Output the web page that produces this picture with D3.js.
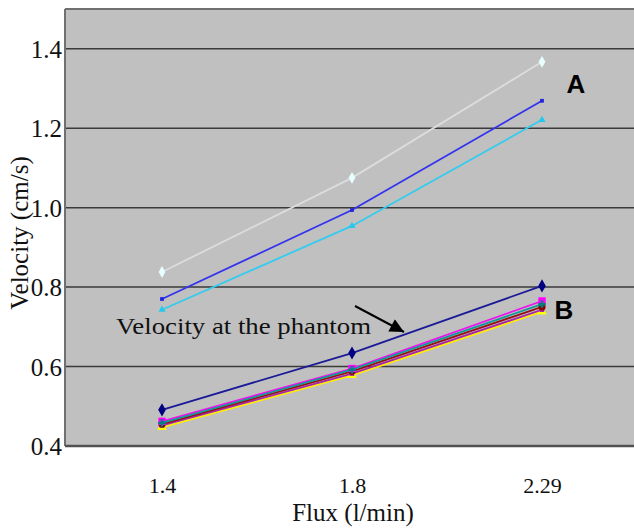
<!DOCTYPE html>
<html><head><meta charset="utf-8">
<script src="https://cdn.jsdelivr.net/npm/d3@7"></script>
<style>body{margin:0;background:#fff}svg{display:block}
.serif{font-family:"Liberation Serif","Times New Roman",Times,serif;fill:#111}
.sansb{font-family:"Liberation Sans",Arial,sans-serif;font-weight:bold;fill:#000}
</style>
</head><body>
<script>
const categories = ["1.4", "1.8", "2.29"];
const yTicks = [0.4, 0.6, 0.8, 1.0, 1.2, 1.4];
const yTickLabels = ["0.4", "0.6", "0.8", "1.0", "1.2", "1.4"];
// Group A
const a1 = [0.838, 1.075, 1.367];
const a2 = [0.770, 0.994, 1.269];
const a3 = [0.743, 0.954, 1.221];
// Group B
const b1 = [0.491, 0.634, 0.803];
const b2 = [0.447, 0.578, 0.738];
const b3 = [0.452, 0.582, 0.743];
const b4 = [0.455, 0.588, 0.750];
const b5 = [0.458, 0.592, 0.757];
const b6 = [0.462, 0.595, 0.765];

const series = [
  {v:a1, color:"#dcdcdc", mc:"#e8ffff", sym:d3.symbolDiamond, ms:40},
  {v:a2, color:"#3333ee", mc:"#2222dd", sym:d3.symbolSquare, ms:14},
  {v:a3, color:"#33ccee", mc:"#22c8ee", sym:d3.symbolTriangle, ms:22},
  {v:b2, color:"#ffee00", mc:"#ffff00", sym:d3.symbolTriangle, ms:40},
  {v:b3, color:"#aa22aa", mc:"#aa22aa", sym:d3.symbolSquare, ms:20},
  {v:b4, color:"#991111", mc:"#880000", sym:d3.symbolCircle, ms:40},
  {v:b6, color:"#ee11ee", mc:"#ff00ff", sym:d3.symbolSquare, ms:55},
  {v:b5, color:"#119999", mc:"#008080", sym:d3.symbolCross, ms:30},
  {v:b1, color:"#1a1a99", mc:"#000080", sym:d3.symbolDiamond, ms:50}
];

const W=634, H=528;
const svg = d3.select("body").append("svg").attr("width",W).attr("height",H);
const L=65, R=634, T=9, B=446;
const x = d3.scalePoint().domain(categories).range([67,637]).padding(0.5);
const y = d3.scaleLinear().domain([0.4,1.5]).range([B,T]);

svg.append("rect").attr("x",L).attr("y",T).attr("width",R-L).attr("height",B-T).attr("fill","#c0c0c0");

// grid
svg.append("g").selectAll("line").data(yTicks.slice(1)).join("line")
  .attr("x1",L).attr("x2",R).attr("y1",d=>y(d)).attr("y2",d=>y(d))
  .attr("stroke","#3a3a3a").attr("stroke-width",1.5);

// borders
svg.append("line").attr("x1",L).attr("x2",R).attr("y1",T).attr("y2",T).attr("stroke","#707070").attr("stroke-width",2);
svg.append("line").attr("x1",L).attr("x2",L).attr("y1",T).attr("y2",B).attr("stroke","#707070").attr("stroke-width",2);
svg.append("line").attr("x1",L).attr("x2",R).attr("y1",B).attr("y2",B).attr("stroke","#505050").attr("stroke-width",2.5);

// y axis labels
const yAxis = d3.axisLeft(y).tickValues(yTicks).tickFormat((d,i)=>yTickLabels[i]).tickSize(0).tickPadding(3);
const ya = svg.append("g").attr("transform",`translate(${L},0)`).call(yAxis).attr("font-family",null).attr("font-size",null);
ya.select(".domain").remove();
ya.selectAll("text").attr("class","serif").style("font-size","25px").attr("dy","0.34em");

// x axis labels
const xAxis = d3.axisBottom(x).tickSize(0).tickPadding(31);
const xa = svg.append("g").attr("transform",`translate(0,${B})`).call(xAxis).attr("font-family",null).attr("font-size",null);
xa.select(".domain").remove();
xa.selectAll("text").attr("class","serif").style("font-size","22px");

// lines
const line = d3.line().x((d,i)=>x(categories[i])).y(d=>y(d));
series.forEach(s=>{
  svg.append("path").attr("d",line(s.v)).attr("fill","none").attr("stroke",s.color).attr("stroke-width",1.8);
  svg.append("g").selectAll("path").data(s.v).join("path")
    .attr("transform",(d,i)=>`translate(${x(categories[i])},${y(d)})`)
    .attr("d",d3.symbol().type(s.sym).size(s.ms)).attr("fill",s.mc);
});

// annotations
svg.append("text").attr("class","sansb").attr("x",576).attr("y",93).attr("text-anchor","middle")
  .style("font-size","26px").text("A");
svg.append("text").attr("class","sansb").attr("x",564).attr("y",319).attr("text-anchor","middle")
  .style("font-size","26px").text("B");
svg.append("text").attr("class","serif").attr("x",116).attr("y",334)
  .attr("textLength",255).attr("lengthAdjust","spacingAndGlyphs")
  .style("font-size","24px").text("Velocity at the phantom");
svg.append("defs").append("marker").attr("id","ah").attr("viewBox","0 0 10 10").attr("refX",10).attr("refY",5)
  .attr("markerWidth",8).attr("markerHeight",7).attr("markerUnits","strokeWidth").attr("orient","auto")
  .append("path").attr("d","M0,0L10,5L0,10z").attr("fill","#000");
svg.append("line").attr("x1",355).attr("y1",306).attr("x2",404).attr("y2",332)
  .attr("stroke","#000").attr("stroke-width",2).attr("marker-end","url(#ah)");

// axis titles
svg.append("text").attr("class","serif").attr("transform","translate(28,233) rotate(-90)").attr("text-anchor","middle")
  .style("font-size","25px").text("Velocity (cm/s)");
svg.append("text").attr("class","serif").attr("x",353).attr("y",521).attr("text-anchor","middle")
  .style("font-size","25px").text("Flux (l/min)");
</script>
</body></html>
